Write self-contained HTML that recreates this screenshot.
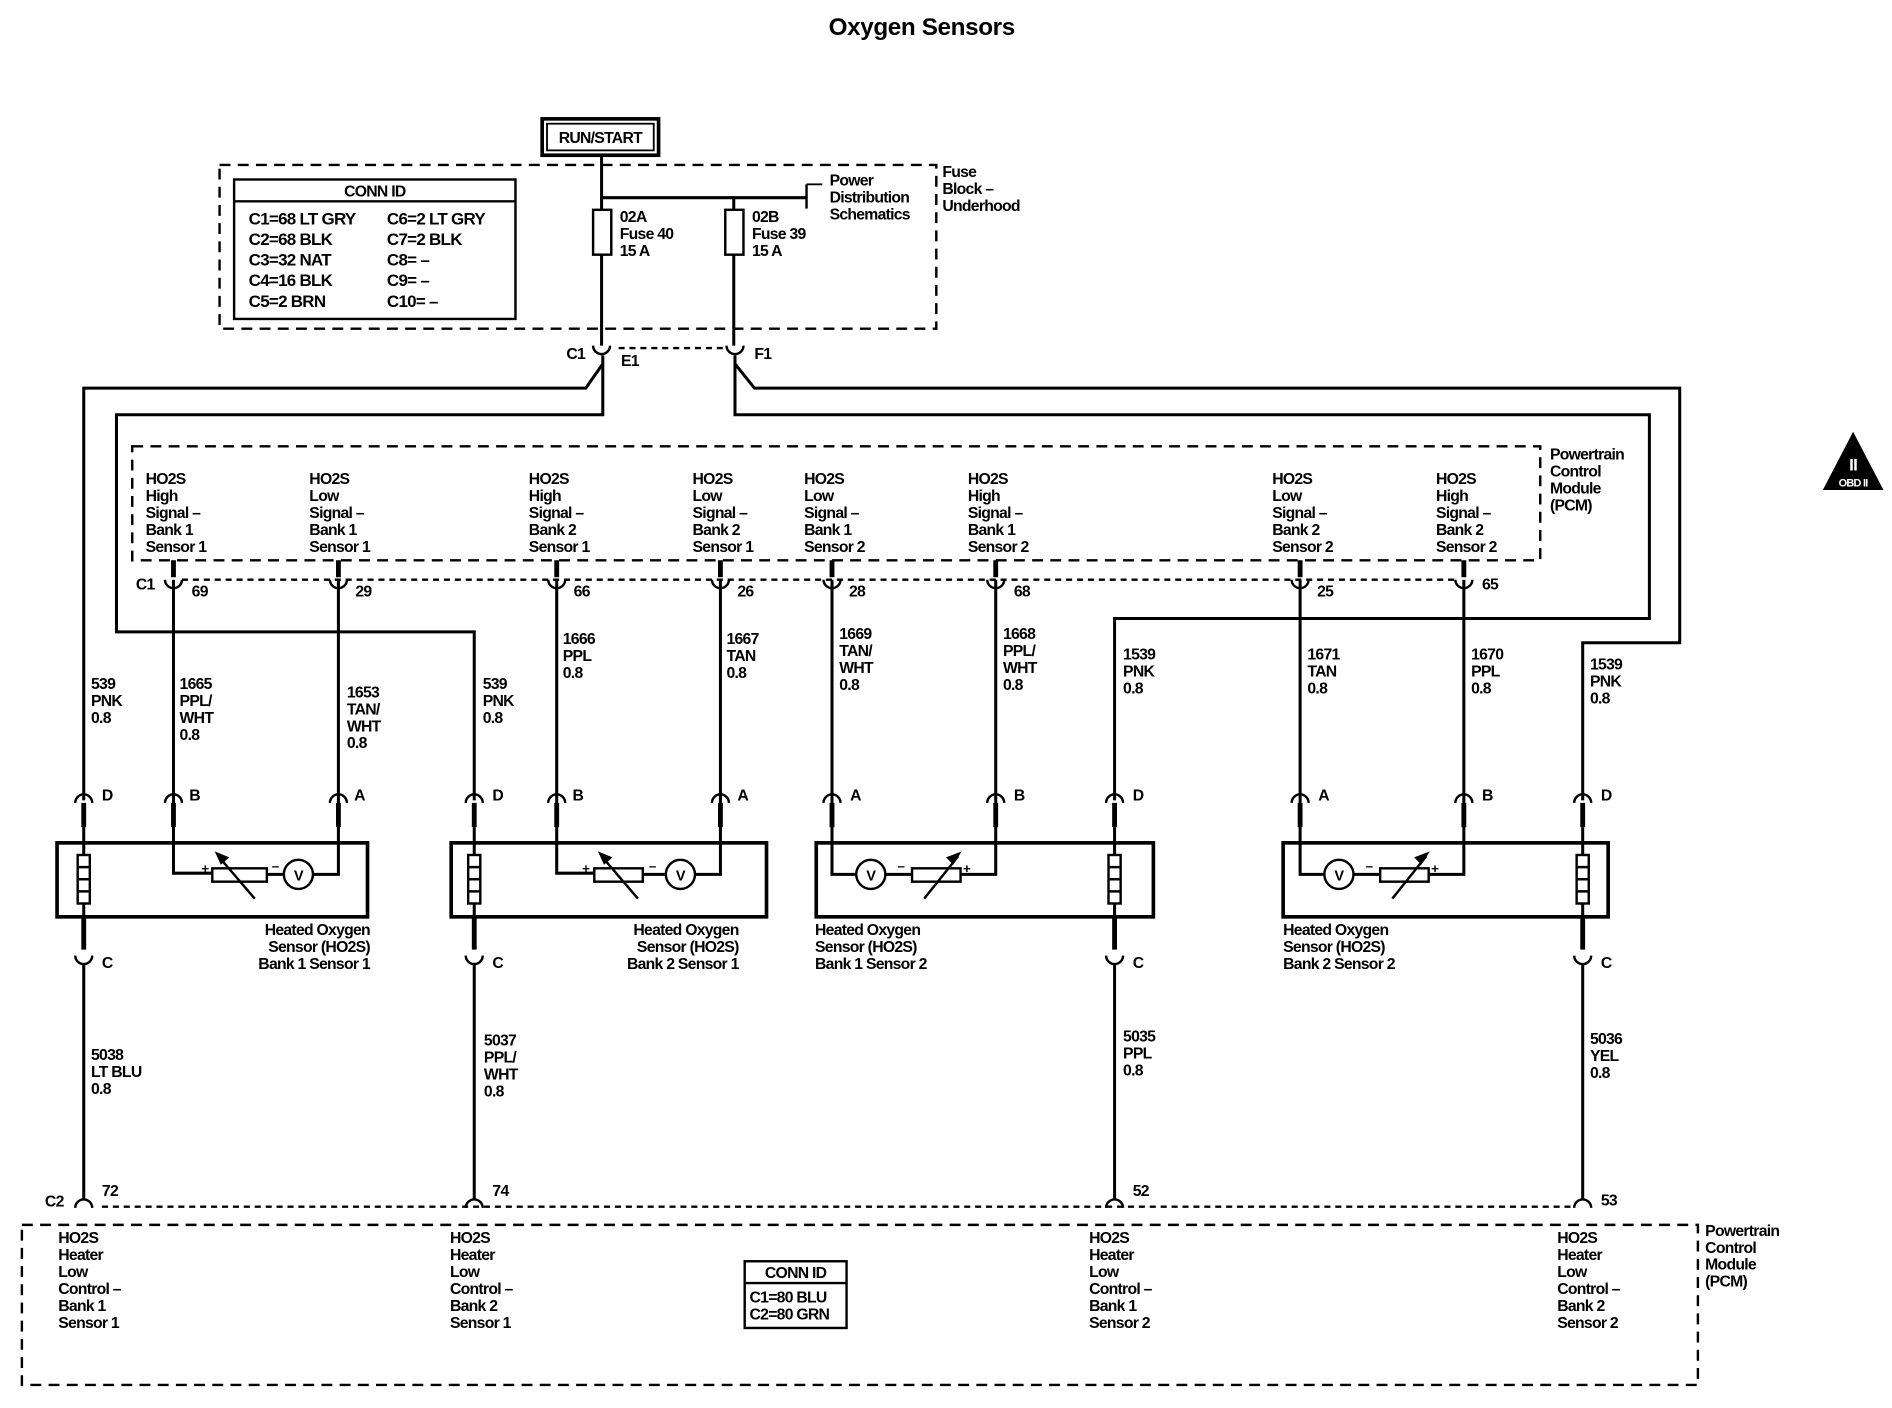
<!DOCTYPE html>
<html><head><meta charset="utf-8"><style>
html,body{margin:0;padding:0;background:#fff;}
svg{display:block;}
text{font-family:"Liberation Sans",sans-serif;font-size:13px;font-weight:bold;letter-spacing:-0.6px;fill:#000;}
</style></head><body>
<svg width="1892" height="1408" viewBox="0 0 1560 1161" xmlns="http://www.w3.org/2000/svg">
<g fill="none" stroke="#000" stroke-width="2.5">
<rect x="447" y="98" width="96" height="30" stroke-width="3"/>
<rect x="451" y="102" width="88" height="22" stroke-width="1.5"/>
<rect x="181" y="136" width="591" height="135" stroke-dasharray="9,6" stroke-width="2"/>
<rect x="193" y="148" width="232" height="115" stroke-width="2"/>
<line x1="193" y1="166" x2="425" y2="166" stroke-width="2"/>
<line x1="496" y1="128" x2="496" y2="285"/>
<line x1="496" y1="163" x2="665" y2="163"/>
<line x1="665" y1="152" x2="665" y2="172" stroke-width="2"/>
<line x1="665" y1="152" x2="678" y2="152" stroke-width="1.5"/>
<line x1="605" y1="163" x2="605" y2="285"/>
<rect x="489" y="173" width="15" height="37" fill="#fff" stroke-width="2"/>
<rect x="598" y="173" width="15" height="37" fill="#fff" stroke-width="2"/>
<path d="M489 285 A7 7 0 0 0 503 285 M599 285 A7 7 0 0 0 613 285" stroke-width="2"/>
<line x1="510" y1="287" x2="598" y2="287" stroke-dasharray="5,4" stroke-width="2"/>
<path d="M497 293 L497 342 L96 342 L96 521 L391 521 L391 660"/>
<path d="M497 300 L483 320 L69 320 L69 660"/>
<path d="M606 293 L606 342 L1360 342 L1360 510 L919 510 L919 660"/>
<path d="M606 300 L622 320 L1385 320 L1385 530 L1305 530 L1305 660"/>
<rect x="109" y="368" width="1161" height="94" stroke-dasharray="9,6" stroke-width="2"/>
<line x1="150" y1="478" x2="1200" y2="478" stroke-dasharray="5,4" stroke-width="2"/>
<path d="M143 478 L143 720 L175 720 M220 721 L234 721 M258 721 L279 721 L279 478"/>
<path d="M459 478 L459 720 L490 720 M530 721 L549 721 M573 721 L594 721 L594 478"/>
<path d="M686 478 L686 721 L706 721 M730 721 L752 721 M792 721 L821 721 L821 478"/>
<path d="M1072 478 L1072 721 L1092 721 M1116 721 L1138 721 M1178 721 L1207 721 L1207 478"/>
<g stroke-width="2">
<path d="M136 478 A7 7 0 0 0 150 478 M272 478 A7 7 0 0 0 286 478 M452 478 A7 7 0 0 0 466 478 M587 478 A7 7 0 0 0 601 478 M679 478 A7 7 0 0 0 693 478 M814 478 A7 7 0 0 0 828 478 M1065 478 A7 7 0 0 0 1079 478 M1200 478 A7 7 0 0 0 1214 478"/>
</g>
<g stroke-width="4">
<path d="M143 462 V476 M279 462 V476 M459 462 V476 M594 462 V476 M686 462 V476 M821 462 V476 M1072 462 V476 M1207 462 V476"/>
<path d="M69 662 V682 M143 662 V682 M279 662 V682 M391 662 V682 M459 662 V682 M594 662 V682 M686 662 V682 M821 662 V682 M919 662 V682 M1072 662 V682 M1207 662 V682 M1305 662 V682"/>
<path d="M69 757 V783 M391 757 V783 M919 757 V783 M1305 757 V783"/>
</g>
<g stroke-width="2">
<path d="M62 662 A7 7 0 0 1 76 662 M136 662 A7 7 0 0 1 150 662 M272 662 A7 7 0 0 1 286 662 M384 662 A7 7 0 0 1 398 662 M452 662 A7 7 0 0 1 466 662 M587 662 A7 7 0 0 1 601 662 M679 662 A7 7 0 0 1 693 662 M814 662 A7 7 0 0 1 828 662 M912 662 A7 7 0 0 1 926 662 M1065 662 A7 7 0 0 1 1079 662 M1200 662 A7 7 0 0 1 1214 662 M1298 662 A7 7 0 0 1 1312 662"/>
<path d="M62 788 A7 7 0 0 0 76 788 M384 788 A7 7 0 0 0 398 788 M912 788 A7 7 0 0 0 926 788 M1298 788 A7 7 0 0 0 1312 788"/>
<path d="M62 996 A7 7 0 0 1 76 996 M384 996 A7 7 0 0 1 398 996 M912 996 A7 7 0 0 1 926 996 M1298 996 A7 7 0 0 1 1312 996"/>
</g>
<line x1="69" y1="682" x2="69" y2="757"/><line x1="391" y1="682" x2="391" y2="757"/><line x1="919" y1="682" x2="919" y2="757"/><line x1="1305" y1="682" x2="1305" y2="757"/>
<path d="M69 795 V989 M391 795 V989 M919 795 V989 M1305 795 V989"/>
<line x1="84" y1="995" x2="1298" y2="995" stroke-dasharray="5,4" stroke-width="2"/>
<g stroke-width="3">
<rect x="47" y="695" width="256" height="61"/>
<rect x="372" y="695" width="260" height="61"/>
<rect x="673" y="695" width="278" height="61"/>
<rect x="1058" y="695" width="268" height="61"/>
</g>
<g stroke-width="2" fill="#fff">
<rect x="64" y="705" width="10" height="40"/><path d="M64 715 H74 M64 725 H74 M64 735 H74"/>
<rect x="386" y="705" width="10" height="40"/><path d="M386 715 H396 M386 725 H396 M386 735 H396"/>
<rect x="914" y="705" width="10" height="40"/><path d="M914 715 H924 M914 725 H924 M914 735 H924"/>
<rect x="1300" y="705" width="10" height="40"/><path d="M1300 715 H1310 M1300 725 H1310 M1300 735 H1310"/>
<rect x="175" y="716" width="45" height="11"/>
<rect x="490" y="716" width="40" height="11"/>
<rect x="752" y="716" width="40" height="11"/>
<rect x="1138" y="716" width="40" height="11"/>
<circle cx="246" cy="721" r="12"/><circle cx="561" cy="721" r="12"/><circle cx="718" cy="721" r="12"/><circle cx="1104" cy="721" r="12"/>
</g>
<g stroke-width="2">
<path d="M210 741 L180 706 M526 741 L496 706"/>
<path d="M762 741 L790 706 M1148 741 L1176 706"/>
</g>
<g fill="#000" stroke="none">
<path d="M177 702 L189 707 L182 713 Z"/>
<path d="M493 702 L505 707 L498 713 Z"/>
<path d="M793 702 L786 713 L780 707 Z"/>
<path d="M1179 702 L1172 713 L1166 707 Z"/>
</g>
<rect x="18" y="1010" width="1382" height="132" stroke-dasharray="9,6" stroke-width="2"/>
<rect x="614" y="1040" width="84" height="55" stroke-width="2"/>
<line x1="614" y1="1058" x2="698" y2="1058" stroke-width="2"/>
<path d="M1528 356 L1503 404 L1553 404 Z" fill="#000" stroke="none"/>
</g>
<text x="760" y="29" text-anchor="middle" style="font-size:20px;letter-spacing:-0.3px">Oxygen Sensors</text>
<text x="495" y="118" text-anchor="middle">RUN/START</text>
<text x="309" y="162" text-anchor="middle">CONN ID</text>
<text x="205" y="185" style="font-size:14px">C1=68 LT GRY</text><text x="319" y="185" style="font-size:14px">C6=2 LT GRY</text>
<text x="205" y="202" style="font-size:14px">C2=68 BLK</text><text x="319" y="202" style="font-size:14px">C7=2 BLK</text>
<text x="205" y="219" style="font-size:14px">C3=32 NAT</text><text x="319" y="219" style="font-size:14px">C8= –</text>
<text x="205" y="236" style="font-size:14px">C4=16 BLK</text><text x="319" y="236" style="font-size:14px">C9= –</text>
<text x="205" y="253" style="font-size:14px">C5=2 BRN</text><text x="319" y="253" style="font-size:14px">C10= –</text>
<text x="511" y="183">02A</text><text x="511" y="197">Fuse 40</text><text x="511" y="211">15 A</text>
<text x="620" y="183">02B</text><text x="620" y="197">Fuse 39</text><text x="620" y="211">15 A</text>
<text x="684" y="153">Power</text><text x="684" y="167">Distribution</text><text x="684" y="181">Schematics</text>
<text x="777" y="146">Fuse</text><text x="777" y="160">Block –</text><text x="777" y="174">Underhood</text>
<text x="467" y="296">C1</text><text x="512" y="302">E1</text><text x="622" y="296">F1</text>
<text x="1278" y="379">Powertrain</text><text x="1278" y="393">Control</text><text x="1278" y="407">Module</text><text x="1278" y="421">(PCM)</text>
<g>
<text x="120" y="399">HO2S</text><text x="120" y="413">High</text><text x="120" y="427">Signal –</text><text x="120" y="441">Bank 1</text><text x="120" y="455">Sensor 1</text>
<text x="255" y="399">HO2S</text><text x="255" y="413">Low</text><text x="255" y="427">Signal –</text><text x="255" y="441">Bank 1</text><text x="255" y="455">Sensor 1</text>
<text x="436" y="399">HO2S</text><text x="436" y="413">High</text><text x="436" y="427">Signal –</text><text x="436" y="441">Bank 2</text><text x="436" y="455">Sensor 1</text>
<text x="571" y="399">HO2S</text><text x="571" y="413">Low</text><text x="571" y="427">Signal –</text><text x="571" y="441">Bank 2</text><text x="571" y="455">Sensor 1</text>
<text x="663" y="399">HO2S</text><text x="663" y="413">Low</text><text x="663" y="427">Signal –</text><text x="663" y="441">Bank 1</text><text x="663" y="455">Sensor 2</text>
<text x="798" y="399">HO2S</text><text x="798" y="413">High</text><text x="798" y="427">Signal –</text><text x="798" y="441">Bank 1</text><text x="798" y="455">Sensor 2</text>
<text x="1049" y="399">HO2S</text><text x="1049" y="413">Low</text><text x="1049" y="427">Signal –</text><text x="1049" y="441">Bank 2</text><text x="1049" y="455">Sensor 2</text>
<text x="1184" y="399">HO2S</text><text x="1184" y="413">High</text><text x="1184" y="427">Signal –</text><text x="1184" y="441">Bank 2</text><text x="1184" y="455">Sensor 2</text>
</g>
<text x="112" y="486">C1</text>
<text x="158" y="492">69</text><text x="293" y="492">29</text><text x="473" y="492">66</text><text x="608" y="492">26</text><text x="700" y="492">28</text><text x="836" y="492">68</text><text x="1086" y="492">25</text><text x="1222" y="486">65</text>
<g>
<text x="75" y="568">539</text><text x="75" y="582">PNK</text><text x="75" y="596">0.8</text>
<text x="148" y="568">1665</text><text x="148" y="582">PPL/</text><text x="148" y="596">WHT</text><text x="148" y="610">0.8</text>
<text x="286" y="575">1653</text><text x="286" y="589">TAN/</text><text x="286" y="603">WHT</text><text x="286" y="617">0.8</text>
<text x="398" y="568">539</text><text x="398" y="582">PNK</text><text x="398" y="596">0.8</text>
<text x="464" y="531">1666</text><text x="464" y="545">PPL</text><text x="464" y="559">0.8</text>
<text x="599" y="531">1667</text><text x="599" y="545">TAN</text><text x="599" y="559">0.8</text>
<text x="692" y="527">1669</text><text x="692" y="541">TAN/</text><text x="692" y="555">WHT</text><text x="692" y="569">0.8</text>
<text x="827" y="527">1668</text><text x="827" y="541">PPL/</text><text x="827" y="555">WHT</text><text x="827" y="569">0.8</text>
<text x="926" y="544">1539</text><text x="926" y="558">PNK</text><text x="926" y="572">0.8</text>
<text x="1078" y="544">1671</text><text x="1078" y="558">TAN</text><text x="1078" y="572">0.8</text>
<text x="1213" y="544">1670</text><text x="1213" y="558">PPL</text><text x="1213" y="572">0.8</text>
<text x="1311" y="552">1539</text><text x="1311" y="566">PNK</text><text x="1311" y="580">0.8</text>
</g>
<g>
<text x="84" y="660">D</text><text x="156" y="660">B</text><text x="292" y="660">A</text><text x="406" y="660">D</text><text x="472" y="660">B</text><text x="608" y="660">A</text><text x="701" y="660">A</text><text x="836" y="660">B</text><text x="934" y="660">D</text><text x="1087" y="660">A</text><text x="1222" y="660">B</text><text x="1320" y="660">D</text>
<text x="84" y="798">C</text><text x="406" y="798">C</text><text x="934" y="798">C</text><text x="1320" y="798">C</text>
</g>
<text x="166" y="720" style="font-size:11px">+</text><text x="224" y="718" style="font-size:11px">–</text>
<text x="480" y="720" style="font-size:11px">+</text><text x="535" y="718" style="font-size:11px">–</text>
<text x="794" y="720" style="font-size:11px">+</text><text x="740" y="718" style="font-size:11px">–</text>
<text x="1180" y="720" style="font-size:11px">+</text><text x="1126" y="718" style="font-size:11px">–</text>
<text x="246" y="726" text-anchor="middle" style="font-size:12px">V</text><text x="561" y="726" text-anchor="middle" style="font-size:12px">V</text><text x="718" y="726" text-anchor="middle" style="font-size:12px">V</text><text x="1104" y="726" text-anchor="middle" style="font-size:12px">V</text>
<g text-anchor="end">
<text x="305" y="771">Heated Oxygen</text><text x="305" y="785">Sensor (HO2S)</text><text x="305" y="799">Bank 1 Sensor 1</text>
<text x="609" y="771">Heated Oxygen</text><text x="609" y="785">Sensor (HO2S)</text><text x="609" y="799">Bank 2 Sensor 1</text>
</g>
<text x="672" y="771">Heated Oxygen</text><text x="672" y="785">Sensor (HO2S)</text><text x="672" y="799">Bank 1 Sensor 2</text>
<text x="1058" y="771">Heated Oxygen</text><text x="1058" y="785">Sensor (HO2S)</text><text x="1058" y="799">Bank 2 Sensor 2</text>
<text x="75" y="874">5038</text><text x="75" y="888">LT BLU</text><text x="75" y="902">0.8</text>
<text x="399" y="862">5037</text><text x="399" y="876">PPL/</text><text x="399" y="890">WHT</text><text x="399" y="904">0.8</text>
<text x="926" y="859">5035</text><text x="926" y="873">PPL</text><text x="926" y="887">0.8</text>
<text x="1311" y="861">5036</text><text x="1311" y="875">YEL</text><text x="1311" y="889">0.8</text>
<text x="37" y="995">C2</text><text x="84" y="986">72</text><text x="406" y="986">74</text><text x="934" y="986">52</text><text x="1320" y="994">53</text>
<g>
<text x="48" y="1025">HO2S</text><text x="48" y="1039">Heater</text><text x="48" y="1053">Low</text><text x="48" y="1067">Control –</text><text x="48" y="1081">Bank 1</text><text x="48" y="1095">Sensor 1</text>
<text x="371" y="1025">HO2S</text><text x="371" y="1039">Heater</text><text x="371" y="1053">Low</text><text x="371" y="1067">Control –</text><text x="371" y="1081">Bank 2</text><text x="371" y="1095">Sensor 1</text>
<text x="898" y="1025">HO2S</text><text x="898" y="1039">Heater</text><text x="898" y="1053">Low</text><text x="898" y="1067">Control –</text><text x="898" y="1081">Bank 1</text><text x="898" y="1095">Sensor 2</text>
<text x="1284" y="1025">HO2S</text><text x="1284" y="1039">Heater</text><text x="1284" y="1053">Low</text><text x="1284" y="1067">Control –</text><text x="1284" y="1081">Bank 2</text><text x="1284" y="1095">Sensor 2</text>
</g>
<text x="1406" y="1019">Powertrain</text><text x="1406" y="1033">Control</text><text x="1406" y="1047">Module</text><text x="1406" y="1061">(PCM)</text>
<text x="656" y="1054" text-anchor="middle">CONN ID</text>
<text x="618" y="1074">C1=80 BLU</text><text x="618" y="1088">C2=80 GRN</text>
<text x="1528" y="388" text-anchor="middle" style="fill:#fff;font-size:14px">II</text>
<text x="1528" y="401" text-anchor="middle" style="fill:#fff;font-size:9px">OBD II</text>
</svg>
</body></html>
